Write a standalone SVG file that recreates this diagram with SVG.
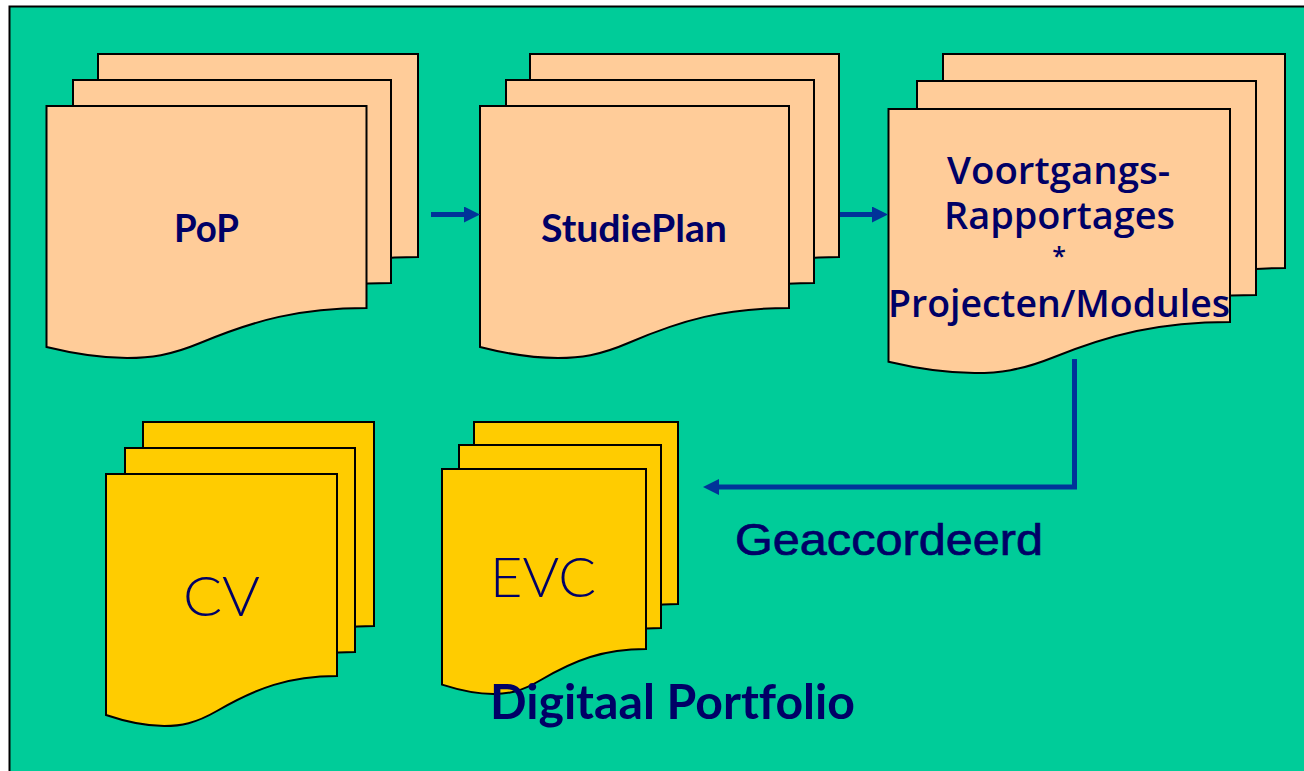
<svg xmlns="http://www.w3.org/2000/svg" width="1304" height="771" viewBox="0 0 1304 771">
<style>
.p{fill:#ffcc99;stroke:#000;stroke-width:2}
.y{fill:#ffcc00;stroke:#000;stroke-width:2}
.c{fill:none;stroke:#003399;stroke-width:5}
text{fill:#000066;font-variant-ligatures:none}
.l{font-family:"Lato",sans-serif;font-weight:700;font-size:38px}
.o{font-family:"Open Sans",sans-serif;font-weight:600;font-size:38px}
.t{font-family:"Lato",sans-serif;font-weight:300;font-size:55px}
</style>
<defs>
<marker id="a" markerUnits="userSpaceOnUse" markerWidth="16" markerHeight="16" refX="6" refY="8" orient="auto"><path d="M0 0L16 8L0 16Z" fill="#003399"/></marker>
</defs>
<rect x="0" y="0" width="1304" height="771" fill="#fff"/>
<rect id="frame" x="9.500" y="6.500" width="1310" height="780" fill="#00cc99" stroke="#000" stroke-width="2"/>
<g id="pop">
<path class="p" d="M98 54H418V257C351.400 257 306.600 269 251.600 292C221.500 304.500 201.400 307 178.600 307C151.400 307 126.500 303 98 296Z"/>
<path class="p" d="M73 80H391V283C324.800 283 280.300 295 225.600 318C195.800 330.500 175.700 333 153.100 333C126.100 333 101.300 329 73 322Z"/>
<path class="p" d="M46.500 106H366.500V308C299.900 308 255.100 320 200.100 343C170 355.500 149.900 358 127.100 358C99.900 358 75 354 46.500 347Z"/>
<text class="l" x="174" y="242" textLength="65" lengthAdjust="spacingAndGlyphs">PoP</text>
</g>
<g id="studieplan">
<path class="p" d="M530 54H839V257C774.700 257 731.500 269 678.300 292C649.300 304.500 629.800 307 607.900 307C581.600 307 557.500 303 530 296Z"/>
<path class="p" d="M506 80H814V283C749.700 283 706.500 295 653.300 318C624.300 330.500 604.800 333 582.900 333C556.600 333 532.500 329 506 322Z"/>
<path class="p" d="M480 106H789V308C724.700 308 681.500 320 628.300 343C599.300 355.500 579.800 358 557.900 358C531.600 358 507.500 354 480 347Z"/>
<text class="l" x="541" y="242" textLength="186" lengthAdjust="spacingAndGlyphs">StudiePlan</text>
</g>
<g id="voortgangs">
<path class="p" d="M943 54H1285V268C1214 268 1166.200 280.200 1107.400 303.700C1075.300 316.500 1053.800 319 1029.600 319C1000.500 319 973.900 315 943 307.800Z"/>
<path class="p" d="M917 81H1256V295C1185 295 1137.200 307.200 1078.400 330.700C1046.300 343.500 1024.800 346 1000.600 346C971.500 346 944.900 342 917 334.800Z"/>
<path class="p" d="M888.500 109H1230V322C1159 322 1111.200 334.200 1052.400 357.700C1020.300 370.500 998.800 373 974.600 373C945.500 373 918.900 369 888.500 361.800Z"/>
<text class="o" x="947" y="184" textLength="223" lengthAdjust="spacingAndGlyphs">Voortgangs-</text>
<text class="o" x="944" y="229" textLength="231" lengthAdjust="spacingAndGlyphs">Rapportages</text>
<text x="1059" y="265" text-anchor="middle" font-family="Open Sans, sans-serif" font-weight="600" font-size="25">*</text>
<text class="o" x="888" y="317" textLength="342" lengthAdjust="spacingAndGlyphs">Projecten/Modules</text>
</g>
<g id="cv">
<path class="y" d="M143 422H374V626C326 626 293.600 638 253.900 661C232.200 673.500 217.600 676 201.200 676C181.600 676 163.600 672 143 665Z"/>
<path class="y" d="M125 448H355V652C307 652 274.600 664 234.900 687C213.200 699.500 198.600 702 182.200 702C162.600 702 144.600 698 125 691Z"/>
<path class="y" d="M106 474H337V676C289 676 256.600 688 216.900 711C195.200 723.500 180.600 726 164.200 726C144.600 726 126.600 722 106 715Z"/>
<text class="t" x="183" y="616" textLength="77" lengthAdjust="spacingAndGlyphs">CV</text>
</g>
<g id="evc">
<path class="y" d="M474 422H678V604C635.600 604 607 614.800 571.900 635.500C552.700 646.800 539.900 649 525.400 649C508.100 649 492.200 645.400 474 639.600Z"/>
<path class="y" d="M459 445H661V628C618.600 628 590 638.800 554.900 659.500C535.700 670.800 522.900 673 508.400 673C491.100 673 475.200 669.400 459 663.600Z"/>
<path class="y" d="M442 469H646V649C603.600 649 575 659.800 539.900 680.500C520.700 691.800 507.900 694 493.400 694C476.100 694 460.200 690.400 442 684.600Z"/>
<text class="t" x="490" y="597" textLength="106" lengthAdjust="spacingAndGlyphs">EVC</text>
</g>
<g id="connectors">
<path class="c" d="M431 214.500H470" marker-end="url(#a)"/>
<path class="c" d="M840 214.500H878" marker-end="url(#a)"/>
<path class="c" d="M1074.500 359V487H713" marker-end="url(#a)"/>
</g>
<text id="geaccordeerd" x="735" y="555" textLength="308" lengthAdjust="spacingAndGlyphs" font-family="Liberation Sans, sans-serif" font-size="45" stroke="#000066" stroke-width=".7">Geaccordeerd</text>
<text id="digitaal" x="490" y="719" textLength="365" lengthAdjust="spacingAndGlyphs" font-family="Lato, sans-serif" font-weight="700" font-size="48">Digitaal Portfolio</text>
</svg>
